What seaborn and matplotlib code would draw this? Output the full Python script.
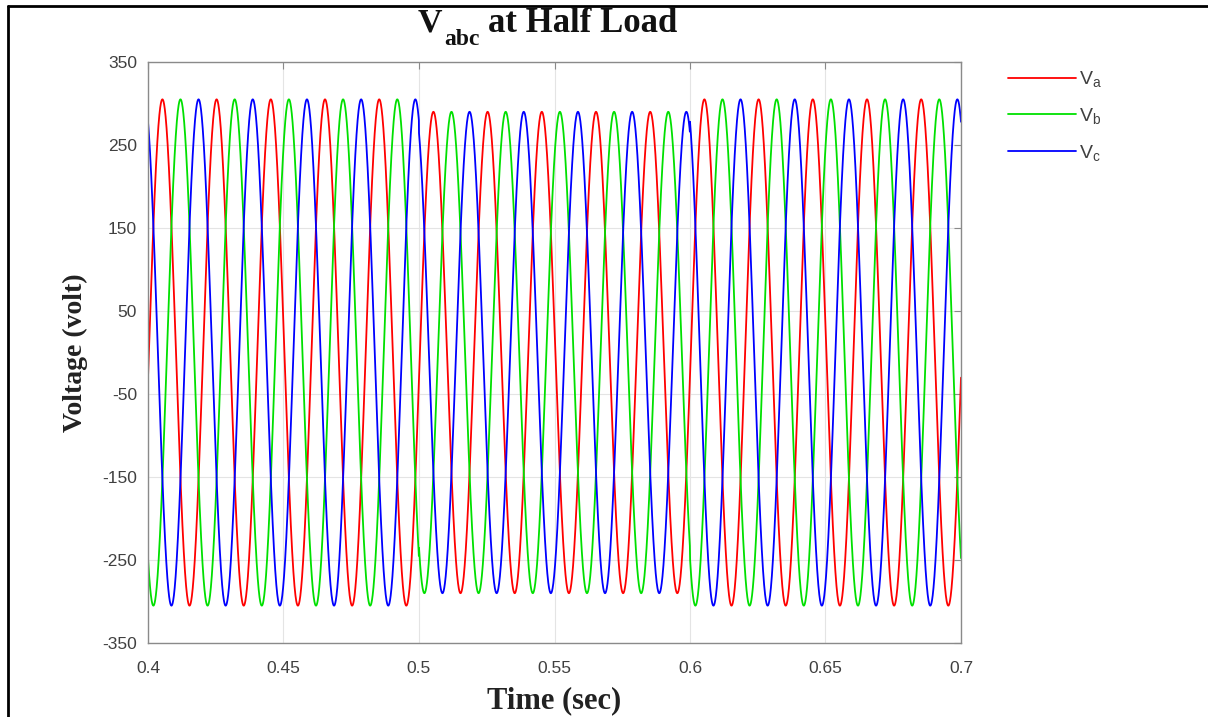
import numpy as np
import pandas as pd
import matplotlib
matplotlib.use("Agg")
import matplotlib.pyplot as plt
from matplotlib.lines import Line2D
import seaborn as sns

# ---- data ----
segment_starts = [0.4, 0.5, 0.6]          # s
segment_ends = [0.5, 0.6, 0.7]            # s
segment_amplitudes = [305, 290, 305]      # peak volts in each interval
frequency_hz = 50
phase_names = ["Va", "Vb", "Vc"]
phase_offsets_deg = [-5.7, -125.7, 114.3]
phase_labels = [r"$\mathrm{V_a}$", r"$\mathrm{V_b}$", r"$\mathrm{V_c}$"]
phase_colors = ["#ff0000", "#00e000", "#0000ff"]
x_ticks = [0.4, 0.45, 0.5, 0.55, 0.6, 0.65, 0.7]
x_tick_labels = ["0.4", "0.45", "0.5", "0.55", "0.6", "0.65", "0.7"]
y_ticks = [-350, -250, -150, -50, 50, 150, 250, 350]

# ---- build long table ----
t = np.linspace(segment_starts[0], segment_ends[-1], 6001)
amp = np.select([(t >= s) & (t < e) for s, e in zip(segment_starts, segment_ends)],
                segment_amplitudes, default=segment_amplitudes[-1])
frames = []
for name, off in zip(phase_names, phase_offsets_deg):
    v = amp * np.sin(2 * np.pi * frequency_hz * t + np.deg2rad(off))
    frames.append(pd.DataFrame({"t": t, "v": v, "phase": name}))
df = pd.concat(frames, ignore_index=True)

sns.set_style("white")
plt.rcParams["mathtext.fontset"] = "custom"
plt.rcParams["mathtext.rm"] = "Liberation Sans"
plt.rcParams["mathtext.bf"] = "Liberation Serif:bold"
plt.rcParams["font.family"] = ["Liberation Sans", "DejaVu Sans"]
plt.rcParams["axes.unicode_minus"] = False

W, H = 1208, 717
fig = plt.figure(figsize=(W / 100, H / 100), dpi=100)
ax = fig.add_axes([148 / W, 1 - 643 / H, (961 - 148) / W, (643 - 62) / H])

sns.lineplot(data=df, x="t", y="v", hue="phase", hue_order=phase_names,
             palette=dict(zip(phase_names, phase_colors)), estimator=None,
             sort=False, linewidth=1.3, ax=ax, legend=False)

ax.set_xlim(0.4, 0.7)
ax.set_ylim(-350, 350)
ax.set_xticks(x_ticks)
ax.set_xticklabels(x_tick_labels)
ax.set_yticks(y_ticks)
ax.grid(True, color="#e4e4e4", linewidth=0.8)
for sp in ax.spines.values():
    sp.set_color("#8a8a8a")
    sp.set_linewidth(1.0)
ax.tick_params(direction="in", length=5, width=0.8, color="#8a8a8a",
               labelsize=12.5, labelcolor="#404040", top=True, right=True)
ax.tick_params(axis="x", pad=13)
ax.tick_params(axis="y", pad=8)

ax.set_xlabel("Time (sec)", family="Liberation Serif", fontweight="bold",
              fontsize=22, color="#222222", labelpad=7)
ax.set_ylabel("Voltage (volt)", family="Liberation Serif", fontweight="bold",
              fontsize=20, color="#222222", labelpad=10)

# title: V with large, low subscript "abc"
tkw = dict(family="Liberation Serif", fontweight="bold", color="#111111", va="baseline", ha="left")
fig.text(418 / W, 1 - 32 / H, "V", fontsize=24.5, **tkw)
fig.text(444 / W, 1 - 45 / H, "abc", fontsize=17, **tkw)
fig.text(488 / W, 1 - 32 / H, "at Half Load", fontsize=25, **tkw)

handles = [Line2D([], [], color=c, linewidth=1.3) for c in phase_colors]
fig.legend(handles, phase_labels, loc="upper left",
           bbox_to_anchor=(990 / W, 1 - 52 / H), frameon=False,
           fontsize=14, handlelength=3.5, labelspacing=0.85, labelcolor="#404040",
           handletextpad=0.2)

# outer frame
fig.add_artist(Line2D([8 / W, 8 / W], [0, 1 - 6 / H], transform=fig.transFigure,
                      color="black", linewidth=2))
fig.add_artist(Line2D([8 / W, 1], [1 - 6 / H, 1 - 6 / H], transform=fig.transFigure,
                      color="black", linewidth=2))

fig.savefig("out.png", dpi=100)
